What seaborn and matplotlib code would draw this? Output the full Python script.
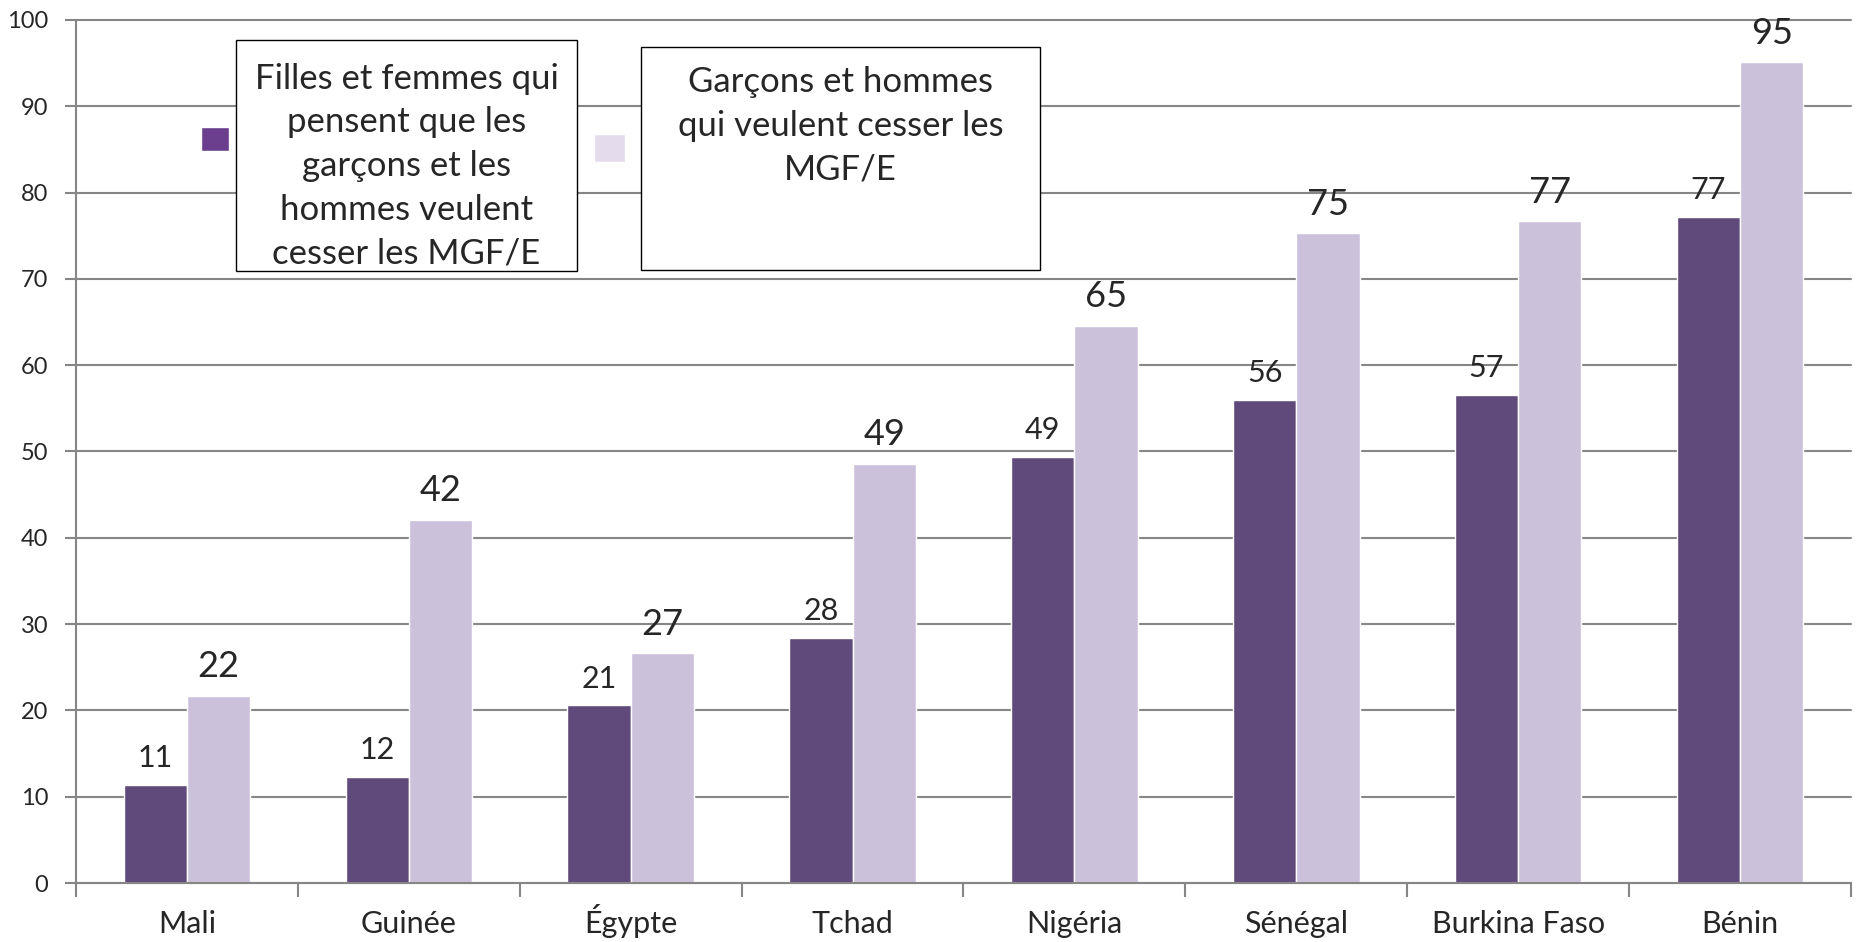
import numpy as np
import pandas as pd
import matplotlib
matplotlib.use('Agg')
import matplotlib.pyplot as plt
from matplotlib.patches import Rectangle
import seaborn as sns

# data
countries = ['Mali', 'Guinée', 'Égypte', 'Tchad', 'Nigéria', 'Sénégal', 'Burkina Faso', 'Bénin']
femmes = [11.4, 12.3, 20.6, 28.4, 49.4, 56.0, 56.6, 77.2]
hommes = [21.7, 42.1, 26.6, 48.6, 64.6, 75.3, 76.7, 95.1]
serie_f = 'Filles et femmes qui pensent que les garçons et les hommes veulent cesser les MGF/E'
serie_h = 'Garçons et hommes qui veulent cesser les MGF/E'
box_f = 'Filles et femmes qui\npensent que les\ngarçons et les\nhommes veulent\ncesser les MGF/E'
box_h = 'Garçons et hommes\nqui veulent cesser les\nMGF/E'

bar_colors = ['#604a7b', '#ccc1da']
legend_colors = ['#6b3f8e', '#e4dcec']
grey = '#868686'

df = pd.DataFrame({
    'pays': countries * 2,
    'valeur': femmes + hommes,
    'serie': [serie_f] * len(countries) + [serie_h] * len(countries),
})

sns.set_style('white')
plt.rcParams['font.family'] = ['Lato', 'DejaVu Sans']

W, H = 1858, 942
fig = plt.figure(figsize=(W / 100, H / 100), dpi=100)
ax = fig.add_axes([76 / W, 1 - 883 / H, (1851 - 76) / W, (883 - 20) / H])

sns.barplot(data=df, x='pays', y='valeur', hue='serie', palette=bar_colors,
            width=0.57, saturation=1, legend=False, ax=ax)

ax.set_ylim(0, 100)
ax.set_xlim(-0.5, len(countries) - 0.5)
ax.set_yticks(np.arange(0, 101, 10))
ax.set_xlabel('')
ax.set_ylabel('')

# value labels
ax.bar_label(ax.containers[0], fmt='%.0f', fontsize=22, padding=9)
ax.bar_label(ax.containers[1], fmt='%.0f', fontsize=26, padding=9)

# grid and axes
ax.grid(axis='y', color=grey, linewidth=1.5)
ax.set_axisbelow(True)
for line in ax.get_ygridlines():
    line.set_clip_on(False)
for s in ['top', 'right']:
    ax.spines[s].set_visible(False)
for s in ['left', 'bottom']:
    ax.spines[s].set_color(grey)
    ax.spines[s].set_linewidth(1.5)

ax.tick_params(axis='y', length=8, width=1.5, color=grey, pad=12, labelsize=17, left=True)
ax.tick_params(axis='x', which='major', length=0, pad=36, labelsize=22, bottom=True)
for lab in ax.get_xticklabels():
    lab.set_verticalalignment('baseline')
ax.set_xticks(np.arange(-0.5, len(countries), 1), minor=True)
ax.tick_params(axis='x', which='minor', length=10, width=1.5, color=grey, bottom=True)

# legend markers (their labels sit under the text boxes)
leg1 = ax.legend([ax.containers[0]], [serie_f], loc='center left',
                 bbox_to_anchor=(201 / W, 1 - 140 / H), bbox_transform=fig.transFigure,
                 frameon=False, fontsize=20, handlelength=1, handleheight=1,
                 handletextpad=0.3, borderpad=0, borderaxespad=0)
leg1.legend_handles[0].set_facecolor(legend_colors[0])
leg1.get_texts()[0].set_visible(False)
ax.add_artist(leg1)
leg2 = ax.legend([ax.containers[1]], [serie_h], loc='center left',
                 bbox_to_anchor=(594 / W, 1 - 149 / H), bbox_transform=fig.transFigure,
                 frameon=False, fontsize=22, handlelength=1, handleheight=1,
                 handletextpad=0.3, borderpad=0, borderaxespad=0)
leg2.legend_handles[0].set_facecolor(legend_colors[1])
leg2.get_texts()[0].set_visible(False)

# text boxes on top of the legend
for (x0, y0, x1, y1), txt, yc in [((236, 40, 577, 271), box_f, 166),
                                  ((641, 47, 1040, 270), box_h, 126)]:
    fig.add_artist(Rectangle((x0 / W, 1 - y1 / H), (x1 - x0) / W, (y1 - y0) / H,
                             transform=fig.transFigure, facecolor='white',
                             edgecolor='black', linewidth=1, zorder=10))
    fig.text((x0 + x1) / 2 / W, 1 - yc / H, txt, ha='center', va='center',
             fontsize=25, linespacing=1.45, zorder=11)

fig.savefig('out.png', dpi=100)
